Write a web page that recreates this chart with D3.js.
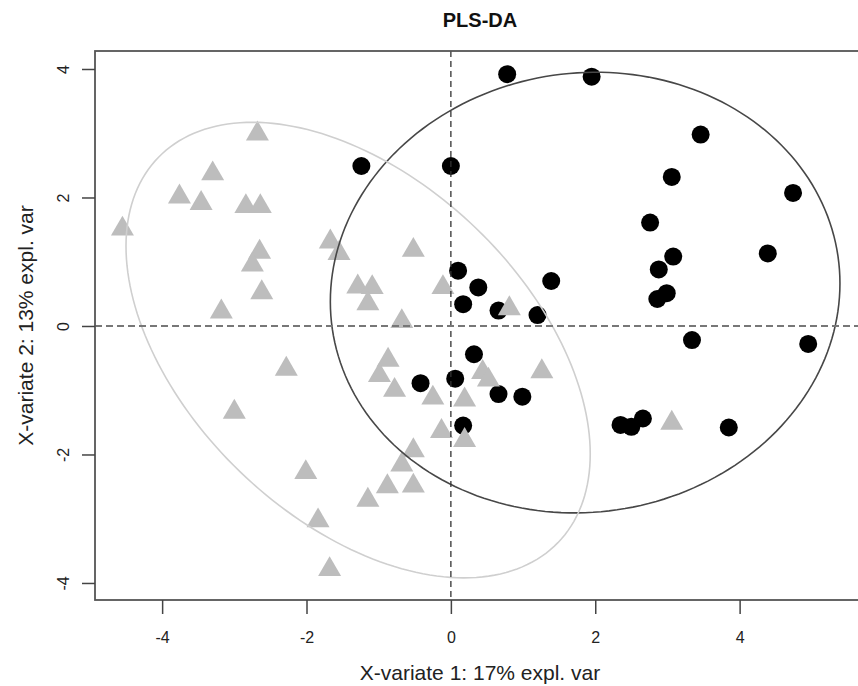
<!DOCTYPE html>
<html>
<head>
<meta charset="utf-8">
<script src="https://cdn.jsdelivr.net/npm/d3@7"></script>
<style>
body { margin: 0; background: #fff; }
svg { font-family: "Liberation Sans", Arial, sans-serif; }
</style>
</head>
<body>
<div class="svg-container"></div>
<script>
// group 1 (black circles)
var circleX = [0.78, 1.95, -1.24, 0.00, 3.46, 3.06, 4.74, 2.76, 4.39, 3.08, 2.88, 2.99, 2.86, 3.34, 4.95,
               2.35, 2.50, 2.66, 3.85, 0.10, 0.38, 0.17, 0.66, 1.20, 1.39, 0.32, 0.06, -0.42, 0.66, 0.99, 0.17];
var circleY = [3.92, 3.88, 2.49, 2.49, 2.98, 2.32, 2.07, 1.61, 1.13, 1.08, 0.88, 0.51, 0.42, -0.22, -0.28,
               -1.54, -1.57, -1.44, -1.58, 0.86, 0.60, 0.34, 0.24, 0.17, 0.70, -0.44, -0.82, -0.89, -1.06, -1.10, -1.55];

// group 2 (grey triangles)
var triX = [-2.68, -3.30, -3.76, -3.46, -2.84, -2.64, -4.55, -2.65, -2.75, -2.62, -3.18, -1.67, -1.55, -1.29,
            -1.09, -1.15, -0.52, -0.11, -0.68, 0.81, -0.87, -0.99, -0.78, -0.25, 0.44, 0.52, 1.26, 0.19,
            -0.13, 0.19, -0.52, -0.68, -0.88, -0.52, -1.15, -2.01, -1.84, -1.68, -2.28, -3.00, 3.06];
var triY = [2.99, 2.37, 2.01, 1.91, 1.86, 1.86, 1.51, 1.15, 0.95, 0.52, 0.22, 1.31, 1.13, 0.61,
            0.60, 0.35, 1.18, 0.60, 0.07, 0.27, -0.53, -0.77, -1.00, -1.12, -0.72, -0.84, -0.71, -1.15,
            -1.64, -1.78, -1.94, -2.16, -2.50, -2.49, -2.71, -2.28, -3.03, -3.79, -0.67, -1.34, -1.51];

// confidence ellipses: centre and [var x, var y, cov xy]
var ellipseCentre = [[1.86, 0.52], [-1.285, -0.375]];
var ellipseShape = [[12.46, 11.76, 0.5], [10.34, 12.57, -5.2]];
var ellipseColor = ["#474747", "#cfcfcf"];

var xTicks = [-4, -2, 0, 2, 4];
var yTicks = [-4, -2, 0, 2, 4];

var width = 858, height = 686;
var margin = { top: 51, right: -13, bottom: 86, left: 95 };
var chartWidth = width - margin.left - margin.right;
var chartHeight = height - margin.top - margin.bottom;

var svg = d3.select(".svg-container")
    .append("svg")
    .attr("width", width)
    .attr("height", height);

var g = svg.append("g")
    .attr("transform", `translate(${margin.left}, ${margin.top})`);

var xScale = d3.scaleLinear()
    .domain([-4.93, 5.82])
    .range([0, chartWidth]);

var yScale = d3.scaleLinear()
    .domain([-4.265, 4.28])
    .range([chartHeight, 0]);

// points
var circles = circleX.map((x, i) => ({ x: x, y: circleY[i] }));
var triangles = triX.map((x, i) => ({ x: x, y: triY[i] }));

g.selectAll(".circ")
    .data(circles)
    .enter().append("circle")
    .attr("class", "circ")
    .attr("cx", d => xScale(d.x))
    .attr("cy", d => yScale(d.y))
    .attr("r", 9)
    .attr("fill", "#000");

var tri = d3.symbol().type(d3.symbolTriangle).size(229);

g.selectAll(".tri")
    .data(triangles)
    .enter().append("path")
    .attr("class", "tri")
    .attr("d", tri)
    .attr("transform", d => `translate(${xScale(d.x)}, ${yScale(d.y)})`)
    .attr("fill", "#bdbdbd");

// ellipses
var ellipseLine = d3.line()
    .x(d => xScale(d[0]))
    .y(d => yScale(d[1]));

ellipseCentre.forEach(function(c, k) {
    var s = ellipseShape[k];
    var l11 = Math.sqrt(s[0]),
        l21 = s[2] / l11,
        l22 = Math.sqrt(s[1] - l21 * l21);
    var pts = d3.range(0, 201).map(function(i) {
        var t = i / 200 * 2 * Math.PI;
        return [c[0] + l11 * Math.cos(t), c[1] + l21 * Math.cos(t) + l22 * Math.sin(t)];
    });
    g.append("path")
        .datum(pts)
        .attr("d", ellipseLine)
        .attr("fill", "none")
        .attr("stroke", ellipseColor[k])
        .attr("stroke-width", 1.6);
});

// reference lines
g.append("line")
    .attr("x1", xScale(0)).attr("x2", xScale(0))
    .attr("y1", 0).attr("y2", chartHeight)
    .attr("stroke", "#333")
    .attr("stroke-width", 1.3)
    .attr("stroke-dasharray", "6,4");

g.append("line")
    .attr("x1", 0).attr("x2", chartWidth)
    .attr("y1", yScale(0)).attr("y2", yScale(0))
    .attr("stroke", "#777")
    .attr("stroke-width", 2.2)
    .attr("stroke-dasharray", "7,4");

// box
g.append("rect")
    .attr("x", 0).attr("y", 0)
    .attr("width", chartWidth).attr("height", chartHeight)
    .attr("fill", "none")
    .attr("stroke", "#555")
    .attr("stroke-width", 1.8);

// axes
var xAxis = d3.axisBottom(xScale).tickValues(xTicks).tickSize(14).tickPadding(18).tickFormat(d3.format("d"));
var yAxis = d3.axisLeft(yScale).tickValues(yTicks).tickSize(13).tickFormat(d3.format("d"));

var gx = g.append("g")
    .attr("transform", `translate(0, ${chartHeight})`)
    .call(xAxis);
gx.select(".domain").remove();
gx.selectAll(".tick line").attr("stroke", "#444").attr("stroke-width", 1.5);
gx.selectAll(".tick text").attr("font-size", 16).attr("fill", "#222").text(d => d < 0 ? "-" + Math.abs(d) : d);

var gy = g.append("g").call(yAxis);
gy.select(".domain").remove();
gy.selectAll(".tick line").attr("stroke", "#444").attr("stroke-width", 1.5);
gy.selectAll(".tick text")
    .attr("font-size", 16)
    .attr("fill", "#222")
    .attr("x", 0)
    .attr("dy", 0)
    .attr("y", -26)
    .attr("transform", "rotate(-90)")
    .style("text-anchor", "middle")
    .text(d => d < 0 ? "-" + Math.abs(d) : d);

// titles
svg.append("text")
    .attr("x", 480).attr("y", 27)
    .attr("text-anchor", "middle")
    .attr("font-weight", "bold")
    .attr("font-size", 20)
    .attr("fill", "#111")
    .text("PLS-DA");

svg.append("text")
    .attr("x", 480).attr("y", 680)
    .attr("text-anchor", "middle")
    .attr("font-size", 21)
    .attr("fill", "#222")
    .text("X-variate 1: 17% expl. var");

svg.append("text")
    .attr("transform", `translate(33, ${margin.top + chartHeight / 2}) rotate(-90)`)
    .attr("text-anchor", "middle")
    .attr("font-size", 21)
    .attr("fill", "#222")
    .text("X-variate 2: 13% expl. var");
</script>
</body>
</html>
